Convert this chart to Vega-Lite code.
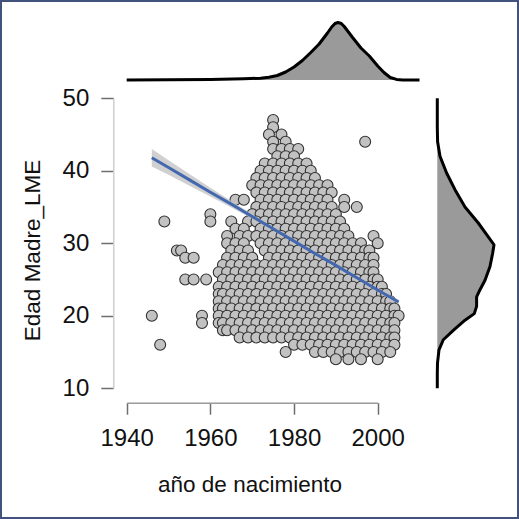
{
"$schema": "https://vega.github.io/schema/vega-lite/v6.json",
"width": 519, "height": 519, "autosize": {"type": "none"}, "padding": 0,
"background": "white",
"config": {
  "view": {"stroke": "#42527c", "strokeWidth": 4},
  "font": "Liberation Sans",
  "axis": {"grid": false, "labelFont": "Liberation Sans", "titleFont": "Liberation Sans", "labelColor": "#111111", "titleColor": "#111111", "titleFontWeight": "normal"}
},
"datasets": {
"pts": [
{"anio":1975,"edad":47},{"anio":1975,"edad":46},
{"anio":1974,"edad":45},{"anio":1977,"edad":45},
{"anio":1975,"edad":44},{"anio":1978,"edad":44},{"anio":1997,"edad":44},
{"anio":1975,"edad":43},{"anio":1977,"edad":43},{"anio":1979,"edad":43},{"anio":1981,"edad":43},
{"anio":1976,"edad":42},{"anio":1978,"edad":42},{"anio":1980,"edad":42},
{"anio":1973,"edad":41},{"anio":1975,"edad":41},{"anio":1977,"edad":41},{"anio":1979,"edad":41},{"anio":1981,"edad":41},{"anio":1983,"edad":41},
{"anio":1972,"edad":40},{"anio":1974,"edad":40},{"anio":1976,"edad":40},{"anio":1978,"edad":40},{"anio":1980,"edad":40},{"anio":1982,"edad":40},{"anio":1984,"edad":40},
{"anio":1971,"edad":39},{"anio":1973,"edad":39},{"anio":1975,"edad":39},{"anio":1977,"edad":39},{"anio":1979,"edad":39},{"anio":1981,"edad":39},{"anio":1983,"edad":39},{"anio":1985,"edad":39},
{"anio":1970,"edad":38},{"anio":1972,"edad":38},{"anio":1974,"edad":38},{"anio":1976,"edad":38},{"anio":1978,"edad":38},{"anio":1980,"edad":38},{"anio":1982,"edad":38},{"anio":1984,"edad":38},{"anio":1986,"edad":38},{"anio":1988,"edad":38},
{"anio":1971,"edad":37},{"anio":1973,"edad":37},{"anio":1975,"edad":37},{"anio":1977,"edad":37},{"anio":1979,"edad":37},{"anio":1981,"edad":37},{"anio":1983,"edad":37},{"anio":1985,"edad":37},{"anio":1987,"edad":37},{"anio":1989,"edad":37},
{"anio":1966,"edad":36},{"anio":1968,"edad":36},{"anio":1972,"edad":36},{"anio":1974,"edad":36},{"anio":1976,"edad":36},{"anio":1978,"edad":36},{"anio":1980,"edad":36},{"anio":1982,"edad":36},{"anio":1984,"edad":36},{"anio":1986,"edad":36},{"anio":1988,"edad":36},{"anio":1992,"edad":36},
{"anio":1971,"edad":35},{"anio":1973,"edad":35},{"anio":1975,"edad":35},{"anio":1977,"edad":35},{"anio":1979,"edad":35},{"anio":1981,"edad":35},{"anio":1983,"edad":35},{"anio":1985,"edad":35},{"anio":1987,"edad":35},{"anio":1989,"edad":35},{"anio":1992,"edad":35},{"anio":1995,"edad":35},
{"anio":1960,"edad":34},{"anio":1970,"edad":34},{"anio":1972,"edad":34},{"anio":1974,"edad":34},{"anio":1976,"edad":34},{"anio":1978,"edad":34},{"anio":1980,"edad":34},{"anio":1982,"edad":34},{"anio":1984,"edad":34},{"anio":1986,"edad":34},{"anio":1988,"edad":34},{"anio":1990,"edad":34},
{"anio":1949,"edad":33},{"anio":1960,"edad":33},{"anio":1965,"edad":33},{"anio":1969,"edad":33},{"anio":1971,"edad":33},{"anio":1973,"edad":33},{"anio":1975,"edad":33},{"anio":1977,"edad":33},{"anio":1979,"edad":33},{"anio":1981,"edad":33},{"anio":1983,"edad":33},{"anio":1985,"edad":33},{"anio":1987,"edad":33},{"anio":1989,"edad":33},{"anio":1991,"edad":33},
{"anio":1966,"edad":32},{"anio":1968,"edad":32},{"anio":1972,"edad":32},{"anio":1974,"edad":32},{"anio":1976,"edad":32},{"anio":1978,"edad":32},{"anio":1980,"edad":32},{"anio":1982,"edad":32},{"anio":1984,"edad":32},{"anio":1986,"edad":32},{"anio":1988,"edad":32},{"anio":1990,"edad":32},{"anio":1992,"edad":32},
{"anio":1964,"edad":31},{"anio":1967,"edad":31},{"anio":1969,"edad":31},{"anio":1971,"edad":31},{"anio":1973,"edad":31},{"anio":1975,"edad":31},{"anio":1977,"edad":31},{"anio":1979,"edad":31},{"anio":1981,"edad":31},{"anio":1983,"edad":31},{"anio":1985,"edad":31},{"anio":1987,"edad":31},{"anio":1989,"edad":31},{"anio":1991,"edad":31},{"anio":1993,"edad":31},{"anio":1999,"edad":31},
{"anio":1964,"edad":30},{"anio":1966,"edad":30},{"anio":1968,"edad":30},{"anio":1972,"edad":30},{"anio":1974,"edad":30},{"anio":1976,"edad":30},{"anio":1978,"edad":30},{"anio":1980,"edad":30},{"anio":1982,"edad":30},{"anio":1984,"edad":30},{"anio":1986,"edad":30},{"anio":1988,"edad":30},{"anio":1990,"edad":30},{"anio":1992,"edad":30},{"anio":1994,"edad":30},{"anio":1996,"edad":30},{"anio":2000,"edad":30},
{"anio":1952,"edad":29},{"anio":1953,"edad":29},{"anio":1965,"edad":29},{"anio":1967,"edad":29},{"anio":1969,"edad":29},{"anio":1973,"edad":29},{"anio":1975,"edad":29},{"anio":1977,"edad":29},{"anio":1979,"edad":29},{"anio":1981,"edad":29},{"anio":1983,"edad":29},{"anio":1985,"edad":29},{"anio":1987,"edad":29},{"anio":1989,"edad":29},{"anio":1991,"edad":29},{"anio":1993,"edad":29},{"anio":1995,"edad":29},{"anio":1997,"edad":29},{"anio":1998,"edad":29},
{"anio":1954,"edad":28},{"anio":1956,"edad":28},{"anio":1964,"edad":28},{"anio":1966,"edad":28},{"anio":1968,"edad":28},{"anio":1970,"edad":28},{"anio":1974,"edad":28},{"anio":1976,"edad":28},{"anio":1978,"edad":28},{"anio":1980,"edad":28},{"anio":1982,"edad":28},{"anio":1984,"edad":28},{"anio":1986,"edad":28},{"anio":1988,"edad":28},{"anio":1990,"edad":28},{"anio":1992,"edad":28},{"anio":1994,"edad":28},{"anio":1996,"edad":28},{"anio":1998,"edad":28},{"anio":1999,"edad":28},
{"anio":1963,"edad":27},{"anio":1965,"edad":27},{"anio":1967,"edad":27},{"anio":1969,"edad":27},{"anio":1971,"edad":27},{"anio":1973,"edad":27},{"anio":1975,"edad":27},{"anio":1977,"edad":27},{"anio":1979,"edad":27},{"anio":1981,"edad":27},{"anio":1983,"edad":27},{"anio":1985,"edad":27},{"anio":1987,"edad":27},{"anio":1989,"edad":27},{"anio":1991,"edad":27},{"anio":1993,"edad":27},{"anio":1995,"edad":27},{"anio":1997,"edad":27},{"anio":1999,"edad":27},
{"anio":1962,"edad":26},{"anio":1964,"edad":26},{"anio":1966,"edad":26},{"anio":1968,"edad":26},{"anio":1970,"edad":26},{"anio":1972,"edad":26},{"anio":1974,"edad":26},{"anio":1976,"edad":26},{"anio":1978,"edad":26},{"anio":1980,"edad":26},{"anio":1982,"edad":26},{"anio":1984,"edad":26},{"anio":1986,"edad":26},{"anio":1988,"edad":26},{"anio":1990,"edad":26},{"anio":1992,"edad":26},{"anio":1994,"edad":26},{"anio":1996,"edad":26},{"anio":1998,"edad":26},{"anio":1999,"edad":26},
{"anio":1954,"edad":25},{"anio":1956,"edad":25},{"anio":1959,"edad":25},{"anio":1963,"edad":25},{"anio":1965,"edad":25},{"anio":1967,"edad":25},{"anio":1969,"edad":25},{"anio":1971,"edad":25},{"anio":1973,"edad":25},{"anio":1975,"edad":25},{"anio":1977,"edad":25},{"anio":1979,"edad":25},{"anio":1981,"edad":25},{"anio":1983,"edad":25},{"anio":1985,"edad":25},{"anio":1987,"edad":25},{"anio":1989,"edad":25},{"anio":1991,"edad":25},{"anio":1993,"edad":25},{"anio":1995,"edad":25},{"anio":1997,"edad":25},{"anio":1999,"edad":25},{"anio":2000,"edad":25},
{"anio":1962,"edad":24},{"anio":1964,"edad":24},{"anio":1966,"edad":24},{"anio":1968,"edad":24},{"anio":1970,"edad":24},{"anio":1972,"edad":24},{"anio":1974,"edad":24},{"anio":1976,"edad":24},{"anio":1978,"edad":24},{"anio":1980,"edad":24},{"anio":1982,"edad":24},{"anio":1984,"edad":24},{"anio":1986,"edad":24},{"anio":1988,"edad":24},{"anio":1990,"edad":24},{"anio":1992,"edad":24},{"anio":1994,"edad":24},{"anio":1996,"edad":24},{"anio":1998,"edad":24},{"anio":2000,"edad":24},{"anio":2001,"edad":24},
{"anio":1962,"edad":23},{"anio":1963,"edad":23},{"anio":1965,"edad":23},{"anio":1967,"edad":23},{"anio":1969,"edad":23},{"anio":1971,"edad":23},{"anio":1973,"edad":23},{"anio":1975,"edad":23},{"anio":1977,"edad":23},{"anio":1979,"edad":23},{"anio":1981,"edad":23},{"anio":1983,"edad":23},{"anio":1985,"edad":23},{"anio":1987,"edad":23},{"anio":1989,"edad":23},{"anio":1991,"edad":23},{"anio":1993,"edad":23},{"anio":1995,"edad":23},{"anio":1997,"edad":23},{"anio":1999,"edad":23},{"anio":2001,"edad":23},{"anio":2002,"edad":23},
{"anio":1962,"edad":22},{"anio":1964,"edad":22},{"anio":1966,"edad":22},{"anio":1968,"edad":22},{"anio":1970,"edad":22},{"anio":1972,"edad":22},{"anio":1974,"edad":22},{"anio":1976,"edad":22},{"anio":1978,"edad":22},{"anio":1980,"edad":22},{"anio":1982,"edad":22},{"anio":1984,"edad":22},{"anio":1986,"edad":22},{"anio":1988,"edad":22},{"anio":1990,"edad":22},{"anio":1992,"edad":22},{"anio":1994,"edad":22},{"anio":1996,"edad":22},{"anio":1998,"edad":22},{"anio":2000,"edad":22},{"anio":2002,"edad":22},{"anio":2003,"edad":22},
{"anio":1962,"edad":21},{"anio":1963,"edad":21},{"anio":1965,"edad":21},{"anio":1967,"edad":21},{"anio":1969,"edad":21},{"anio":1971,"edad":21},{"anio":1973,"edad":21},{"anio":1975,"edad":21},{"anio":1977,"edad":21},{"anio":1979,"edad":21},{"anio":1981,"edad":21},{"anio":1983,"edad":21},{"anio":1985,"edad":21},{"anio":1987,"edad":21},{"anio":1989,"edad":21},{"anio":1991,"edad":21},{"anio":1993,"edad":21},{"anio":1995,"edad":21},{"anio":1997,"edad":21},{"anio":1999,"edad":21},{"anio":2001,"edad":21},{"anio":2003,"edad":21},{"anio":2004,"edad":21},
{"anio":1946,"edad":20},{"anio":1958,"edad":20},{"anio":1962,"edad":20},{"anio":1964,"edad":20},{"anio":1966,"edad":20},{"anio":1968,"edad":20},{"anio":1970,"edad":20},{"anio":1972,"edad":20},{"anio":1974,"edad":20},{"anio":1976,"edad":20},{"anio":1978,"edad":20},{"anio":1980,"edad":20},{"anio":1982,"edad":20},{"anio":1984,"edad":20},{"anio":1986,"edad":20},{"anio":1988,"edad":20},{"anio":1990,"edad":20},{"anio":1992,"edad":20},{"anio":1994,"edad":20},{"anio":1996,"edad":20},{"anio":1998,"edad":20},{"anio":2000,"edad":20},{"anio":2002,"edad":20},{"anio":2004,"edad":20},{"anio":2005,"edad":20},
{"anio":1958,"edad":19},{"anio":1962,"edad":19},{"anio":1963,"edad":19},{"anio":1965,"edad":19},{"anio":1967,"edad":19},{"anio":1969,"edad":19},{"anio":1971,"edad":19},{"anio":1973,"edad":19},{"anio":1975,"edad":19},{"anio":1977,"edad":19},{"anio":1979,"edad":19},{"anio":1981,"edad":19},{"anio":1983,"edad":19},{"anio":1985,"edad":19},{"anio":1987,"edad":19},{"anio":1989,"edad":19},{"anio":1991,"edad":19},{"anio":1993,"edad":19},{"anio":1995,"edad":19},{"anio":1997,"edad":19},{"anio":1999,"edad":19},{"anio":2001,"edad":19},{"anio":2003,"edad":19},{"anio":2004,"edad":19},
{"anio":1963,"edad":18},{"anio":1964,"edad":18},{"anio":1966,"edad":18},{"anio":1968,"edad":18},{"anio":1970,"edad":18},{"anio":1972,"edad":18},{"anio":1974,"edad":18},{"anio":1976,"edad":18},{"anio":1978,"edad":18},{"anio":1980,"edad":18},{"anio":1982,"edad":18},{"anio":1984,"edad":18},{"anio":1986,"edad":18},{"anio":1988,"edad":18},{"anio":1990,"edad":18},{"anio":1992,"edad":18},{"anio":1994,"edad":18},{"anio":1996,"edad":18},{"anio":1998,"edad":18},{"anio":2000,"edad":18},{"anio":2002,"edad":18},{"anio":2004,"edad":18},
{"anio":1967,"edad":17},{"anio":1969,"edad":17},{"anio":1971,"edad":17},{"anio":1973,"edad":17},{"anio":1975,"edad":17},{"anio":1977,"edad":17},{"anio":1979,"edad":17},{"anio":1981,"edad":17},{"anio":1983,"edad":17},{"anio":1985,"edad":17},{"anio":1987,"edad":17},{"anio":1989,"edad":17},{"anio":1991,"edad":17},{"anio":1993,"edad":17},{"anio":1995,"edad":17},{"anio":1997,"edad":17},{"anio":1999,"edad":17},{"anio":2001,"edad":17},{"anio":2003,"edad":17},{"anio":2004,"edad":17},
{"anio":1948,"edad":16},{"anio":1980,"edad":16},{"anio":1982,"edad":16},{"anio":1984,"edad":16},{"anio":1986,"edad":16},{"anio":1988,"edad":16},{"anio":1990,"edad":16},{"anio":1992,"edad":16},{"anio":1994,"edad":16},{"anio":1996,"edad":16},{"anio":1998,"edad":16},{"anio":2000,"edad":16},{"anio":2002,"edad":16},{"anio":2004,"edad":16},
{"anio":1978,"edad":15},{"anio":1985,"edad":15},{"anio":1987,"edad":15},{"anio":1989,"edad":15},{"anio":1991,"edad":15},{"anio":1993,"edad":15},{"anio":1995,"edad":15},{"anio":1997,"edad":15},{"anio":1999,"edad":15},{"anio":2001,"edad":15},{"anio":2003,"edad":15},
{"anio":1990,"edad":14},{"anio":1993,"edad":14},{"anio":1996,"edad":14},{"anio":2000,"edad":14}
],
"fit": [
{"anio":1946,"ajuste":41.8,"lo":40.6,"hi":43.0},
{"anio":1950,"ajuste":40.45,"lo":39.45,"hi":41.45},
{"anio":1955,"ajuste":38.75,"lo":37.95,"hi":39.55},
{"anio":1960,"ajuste":37.05,"lo":36.45,"hi":37.65},
{"anio":1965,"ajuste":35.4,"lo":34.95,"hi":35.85},
{"anio":1970,"ajuste":33.7,"lo":33.4,"hi":34.0},
{"anio":1975,"ajuste":32.0,"lo":31.78,"hi":32.22},
{"anio":1980,"ajuste":30.3,"lo":30.15,"hi":30.45},
{"anio":1985,"ajuste":28.6,"lo":28.48,"hi":28.72},
{"anio":1990,"ajuste":26.95,"lo":26.83,"hi":27.07},
{"anio":1995,"ajuste":25.25,"lo":25.1,"hi":25.4},
{"anio":2000,"ajuste":23.55,"lo":23.35,"hi":23.75},
{"anio":2005,"ajuste":21.9,"lo":21.6,"hi":22.2}
],
"top": [
{"anio":1940,"dens":0},{"anio":1950,"dens":0.0002},{"anio":1960,"dens":0.0006},{"anio":1968,"dens":0.0012},{"anio":1972,"dens":0.0018},{"anio":1974,"dens":0.0028},{"anio":1976,"dens":0.0045},{"anio":1978,"dens":0.008},{"anio":1980,"dens":0.013},{"anio":1982,"dens":0.0195},{"anio":1984,"dens":0.0275},{"anio":1986,"dens":0.036},{"anio":1988,"dens":0.047},{"anio":1989,"dens":0.053},{"anio":1989.8,"dens":0.0565},{"anio":1990.5,"dens":0.0575},{"anio":1991.3,"dens":0.0565},{"anio":1992,"dens":0.0535},{"anio":1994,"dens":0.0425},{"anio":1996,"dens":0.032},{"anio":1998,"dens":0.024},{"anio":2000,"dens":0.014},{"anio":2001.5,"dens":0.0075},{"anio":2003,"dens":0.0025},{"anio":2004.5,"dens":0.0006},{"anio":2006,"dens":0.0001},{"anio":2010,"dens":0}
],
"right": [
{"edad":50,"dens":0},{"edad":46,"dens":0},{"edad":44,"dens":0.0003},{"edad":42,"dens":0.0027},{"edad":39.7,"dens":0.0093},{"edad":37.4,"dens":0.0177},{"edad":35,"dens":0.0277},{"edad":32.8,"dens":0.041},{"edad":30.9,"dens":0.051},{"edad":29.8,"dens":0.0567},{"edad":28.6,"dens":0.0553},{"edad":26.8,"dens":0.0527},{"edad":24.9,"dens":0.0477},{"edad":23.6,"dens":0.0427},{"edad":22.6,"dens":0.0393},{"edad":21.3,"dens":0.0393},{"edad":20.3,"dens":0.037},{"edad":19.4,"dens":0.0277},{"edad":18,"dens":0.016},{"edad":16.7,"dens":0.006},{"edad":15.3,"dens":0.0017},{"edad":13.5,"dens":0.0002},{"edad":12,"dens":0},{"edad":10,"dens":0}
]
},
"layer": [
  {"layer": [
    {"data": {"name": "pts"},
     "mark": {"type": "circle", "size": 120, "fill": "#c2c2c2", "stroke": "#303030", "strokeWidth": 1.1, "opacity": 1, "fillOpacity": 1},
     "encoding": {
       "x": {"field": "anio", "type": "quantitative", "scale": {"domain": [1940, 2000], "range": [126.7, 377.7], "zero": false, "nice": false},
             "axis": {"values": [1940, 1960, 1980, 2000], "format": "d", "title": "año de nacimiento", "offset": -116.3, "tickSize": 11.5, "tickColor": "#6e6e6e", "tickWidth": 1.5, "domainColor": "#9a9a9a", "domainWidth": 1.5, "labelFontSize": 24, "labelPadding": 12, "labelFlush": false, "labelOverlap": false, "titleFontSize": 22.5, "titleX": 249.5, "titleY": 88.3, "titleBaseline": "alphabetic"}},
       "y": {"field": "edad", "type": "quantitative", "scale": {"domain": [10, 50], "range": [388.3, 98.3], "zero": false, "nice": false},
             "axis": {"values": [10, 20, 30, 40, 50], "title": "Edad Madre_LME", "offset": -113.3, "tickSize": 12.5, "tickColor": "#6e6e6e", "tickWidth": 1.5, "domainColor": "#cfcfcf", "domainWidth": 1.5, "labelFontSize": 24, "labelPadding": 12, "labelFlush": false, "labelOverlap": false, "titleFontSize": 22.5, "titleX": -74.3, "titleY": 250, "titleBaseline": "alphabetic"}}
     }},
    {"data": {"name": "fit"},
     "mark": {"type": "area", "color": "#c4c4c4", "opacity": 0.8},
     "encoding": {
       "x": {"field": "anio", "type": "quantitative", "scale": {"domain": [1940, 2000], "range": [126.7, 377.7], "zero": false, "nice": false}},
       "y": {"field": "lo", "type": "quantitative", "scale": {"domain": [10, 50], "range": [388.3, 98.3], "zero": false, "nice": false}},
       "y2": {"field": "hi"}
     }},
    {"data": {"name": "fit"},
     "mark": {"type": "line", "color": "#4468b0", "strokeWidth": 3},
     "encoding": {
       "x": {"field": "anio", "type": "quantitative", "scale": {"domain": [1940, 2000], "range": [126.7, 377.7], "zero": false, "nice": false}},
       "y": {"field": "ajuste", "type": "quantitative", "scale": {"domain": [10, 50], "range": [388.3, 98.3], "zero": false, "nice": false}}
     }}
  ]},
  {"data": {"name": "top"},
   "layer": [
    {"mark": {"type": "area", "color": "#9a9a9a"},
     "encoding": {
       "x": {"field": "anio", "type": "quantitative", "scale": {"domain": [1940, 2000], "range": [126.7, 377.7], "zero": false, "nice": false}, "axis": null},
       "y": {"field": "dens", "type": "quantitative", "scale": {"domain": [0, 0.06], "range": [80, 20], "nice": false}, "axis": null, "stack": null}
     }},
    {"mark": {"type": "line", "color": "#000000", "strokeWidth": 3, "strokeJoin": "round", "strokeCap": "butt"},
     "encoding": {
       "x": {"field": "anio", "type": "quantitative", "scale": {"domain": [1940, 2000], "range": [126.7, 377.7], "zero": false, "nice": false}, "axis": null},
       "y": {"field": "dens", "type": "quantitative", "scale": {"domain": [0, 0.06], "range": [80, 20], "nice": false}, "axis": null}
     }}
   ]
  },
  {"data": {"name": "right"},
   "layer": [
    {"mark": {"type": "area", "color": "#9a9a9a", "orient": "horizontal"},
     "encoding": {
       "y": {"field": "edad", "type": "quantitative", "scale": {"domain": [10, 50], "range": [388.3, 98.3], "zero": false, "nice": false}, "axis": null},
       "x": {"field": "dens", "type": "quantitative", "scale": {"domain": [0, 0.06], "range": [437.3, 497.3], "nice": false}, "axis": null, "stack": null}
     }},
    {"mark": {"type": "line", "color": "#000000", "strokeWidth": 3, "strokeJoin": "round", "orient": "horizontal"},
     "encoding": {
       "y": {"field": "edad", "type": "quantitative", "scale": {"domain": [10, 50], "range": [388.3, 98.3], "zero": false, "nice": false}, "axis": null},
       "x": {"field": "dens", "type": "quantitative", "scale": {"domain": [0, 0.06], "range": [437.3, 497.3], "nice": false}, "axis": null},
       "order": {"field": "edad", "type": "quantitative"}
     }}
   ]
  }
],
"resolve": {"scale": {"x": "independent", "y": "independent"}, "axis": {"x": "independent", "y": "independent"}}
}
